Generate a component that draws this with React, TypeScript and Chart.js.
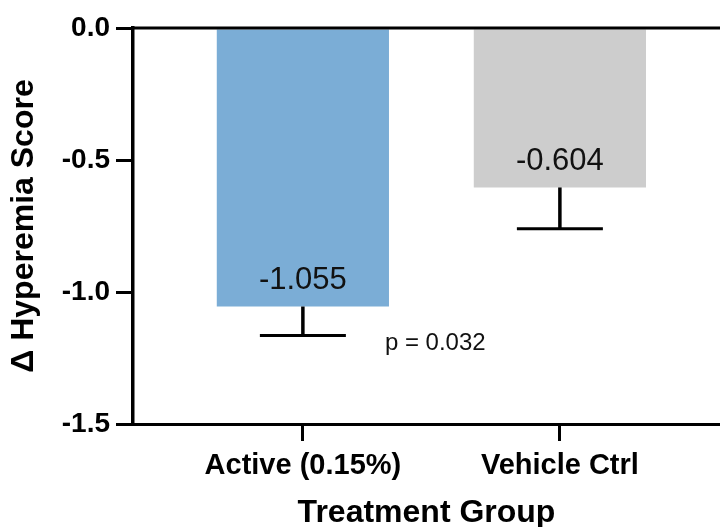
import React, { useEffect, useRef } from 'react';
import { Chart, registerables } from 'chart.js';

Chart.register(...registerables);

const categories = ['Active (0.15%)', 'Vehicle Ctrl'];
const meanChange = [-1.055, -0.604];
const errorLower = [-1.165, -0.76];
const valueLabels = ['-1.055', '-0.604'];
const barColors = ['#7BADD6', '#CDCDCD'];
const yTickValues = [-1.5, -1.0, -0.5, 0];
const pValueText = 'p = 0.032';
const yTitle = 'Δ Hyperemia Score';
const xTitle = 'Treatment Group';

const FONT = 'Arial, "Liberation Sans", Helvetica, sans-serif';

const annotatePlugin = {
  id: 'annotate',
  afterDatasetsDraw(chart: any) {
    const { ctx, chartArea, scales } = chart;
    const y = scales.y;
    const meta = chart.getDatasetMeta(0);
    ctx.save();
    ctx.strokeStyle = '#000';
    ctx.lineCap = 'butt';
    ctx.lineWidth = 3;
    ctx.beginPath();
    ctx.moveTo(chartArea.left, chartArea.top);
    ctx.lineTo(chartArea.right, chartArea.top);
    ctx.stroke();
    const cap = 43;
    meta.data.forEach((bar: any, i: number) => {
      const yErr = y.getPixelForValue(errorLower[i]);
      ctx.lineWidth = 3.5;
      ctx.beginPath();
      ctx.moveTo(bar.x, bar.y);
      ctx.lineTo(bar.x, yErr);
      ctx.stroke();
      ctx.lineWidth = 3;
      ctx.beginPath();
      ctx.moveTo(bar.x - cap, yErr);
      ctx.lineTo(bar.x + cap, yErr);
      ctx.stroke();
      ctx.fillStyle = '#111';
      ctx.font = `31px ${FONT}`;
      ctx.textAlign = 'center';
      ctx.textBaseline = 'middle';
      ctx.fillText(valueLabels[i], bar.x, bar.y - 26);
    });
    const b0 = meta.data[0];
    if (b0) {
      ctx.fillStyle = '#111';
      ctx.font = `24px ${FONT}`;
      ctx.textAlign = 'left';
      ctx.textBaseline = 'middle';
      ctx.fillText(pValueText, b0.x + 82, y.getPixelForValue(errorLower[0]) + 8);
    }
    ctx.restore();
  },
};

export default function App() {
  const canvasRef = useRef<HTMLCanvasElement | null>(null);

  useEffect(() => {
    const canvas = canvasRef.current;
    if (!canvas) return;
    const chart = new Chart(canvas, {
      type: 'bar',
      data: {
        datasets: [
          {
            data: meanChange.map((v, i) => ({ x: i, y: v })),
            backgroundColor: barColors,
            borderWidth: 0,
            barPercentage: 0.67,
            categoryPercentage: 1,
          },
        ],
      },
      options: {
        animation: false,
        responsive: false,
        devicePixelRatio: 1,
        layout: { padding: { top: 28, left: 0, right: 0, bottom: 0 } },
        plugins: {
          legend: { display: false },
          tooltip: { enabled: false },
        },
        scales: {
          x: {
            type: 'linear',
            offset: false,
            min: -0.661,
            max: 1.623,
            afterBuildTicks: (scale: any) => {
              scale.ticks = categories.map((_, i) => ({ value: i }));
            },
            afterFit: (scale: any) => {
              scale.height = 103;
            },
            ticks: {
              callback: (v: any) => categories[Number(v)] ?? '',
              color: '#000',
              font: { family: FONT, size: 29, weight: 'bold' },
              padding: 8,
              maxRotation: 0,
              autoSkip: false,
            },
            grid: {
              offset: false,
              drawOnChartArea: false,
              drawTicks: true,
              tickLength: 17,
              color: '#000',
              lineWidth: 3,
            },
            border: { display: true, color: '#000', width: 3 },
            title: {
              display: true,
              text: xTitle,
              color: '#000',
              font: { family: FONT, size: 32, weight: 'bold', lineHeight: 1 },
              padding: { top: 0, bottom: -2 },
            },
          },
          y: {
            type: 'linear',
            min: -1.5,
            max: 0,
            afterBuildTicks: (scale: any) => {
              scale.ticks = yTickValues.map((v) => ({ value: v }));
            },
            afterFit: (scale: any) => {
              scale.width = 133;
            },
            ticks: {
              callback: (v: any) => Number(v).toFixed(1),
              color: '#000',
              font: { family: FONT, size: 28, weight: 'bold' },
              padding: 6,
              autoSkip: false,
            },
            grid: {
              drawOnChartArea: false,
              drawTicks: true,
              tickLength: 17,
              color: '#000',
              lineWidth: 3,
            },
            border: { display: true, color: '#000', width: 3.5 },
            title: {
              display: true,
              text: yTitle,
              color: '#000',
              font: { family: FONT, size: 32, weight: 'bold', lineHeight: 1.2 },
              padding: { top: 5, bottom: 0 },
            },
          },
        },
      },
      plugins: [annotatePlugin],
    } as any);
    return () => chart.destroy();
  }, []);

  return (
    <div style={{ position: 'absolute', left: 0, top: 0, width: 720, height: 527, overflow: 'hidden', background: '#fff' }}>
      <canvas ref={canvasRef} width={720} height={527} style={{ display: 'block' }} />
    </div>
  );
}
